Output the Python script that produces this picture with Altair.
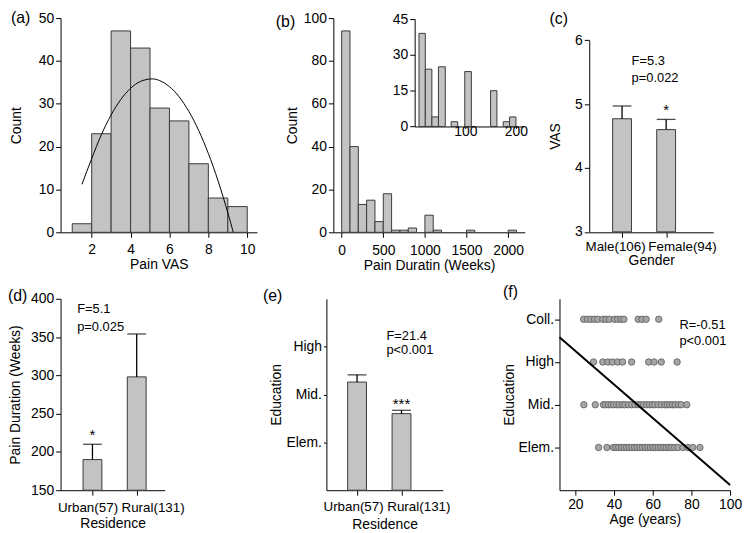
import json
import altair as alt
import pandas as pd

FONT = "Liberation Sans"
BAR_FILL = "#c3c3c3"
BAR_STROKE = "#3a3a3a"

# ---------------- data ----------------
# (a) Pain VAS histogram + fitted curve
vas_bin_start = [1, 2, 3, 4, 5, 6, 7, 8, 9]
vas_bin_end = [2, 3, 4, 5, 6, 7, 8, 9, 10]
vas_counts = [2, 23, 47, 43, 29, 26, 16, 8, 6]
vas_fit_x = [1.5, 2.0, 2.5, 3.0, 3.5, 4.0, 4.5, 5.05, 5.5, 6.0, 6.5, 7.0, 7.5, 8.0, 8.5, 9.0, 9.28]
vas_fit_y = [11.2, 17.2, 22.8, 27.4, 31.0, 33.6, 35.2, 35.8, 35.4, 34.0, 31.6, 28.2, 23.8, 18.4, 12.0, 4.6, 0.0]

# (b) Pain duration histogram + inset
dur_bin_start = [0, 100, 200, 300, 400, 500, 600, 700, 800, 1000, 1100, 1500, 2000]
dur_bin_end = [100, 200, 300, 400, 500, 600, 700, 800, 900, 1100, 1200, 1600, 2100]
dur_counts = [94, 40, 13, 15, 5, 18, 1, 1, 2, 8, 1, 1, 1]
inset_bin_start = [8.5, 21, 34, 47, 72, 99, 150, 175, 187.5]
inset_bin_end = [21, 34, 47, 60.5, 85, 112, 162.5, 187.5, 200]
inset_counts = [39, 24, 4, 25, 2, 23, 15, 2, 4]

# (c) VAS by gender
gender_labels = ["Male(106)", "Female(94)"]
gender_vas_mean = [4.77, 4.60]
gender_vas_upper = [4.97, 4.76]
gender_sig = ["", "*"]

# (d) pain duration by residence
res_labels = ["Urban(57)", "Rural(131)"]
res_dur_mean = [190, 298]
res_dur_upper = [210, 354]
res_dur_sig = ["*", ""]

# (e) education by residence
res_edu_mean = [2.26, 1.60]
res_edu_upper = [2.41, 1.67]
res_edu_sig = ["", "***"]
edu_levels_e = ["Elem.", "Mid.", "High"]

# (f) education vs age
edu_levels_f = ["Elem.", "Mid.", "High", "Coll."]
age_elem = [32.0, 36.3, 39.7, 41.0, 42.4, 43.8, 45.1, 46.5, 47.8, 49.2, 50.6, 51.9, 53.3, 54.7,
            56.1, 57.4, 58.8, 60.2, 61.5, 62.9, 64.3, 65.6, 67.0, 68.4, 69.7, 71.3, 73.0, 75.6,
            78.1, 80.7, 84.4]
age_mid = [24.4, 30.3, 34.5, 35.7, 37.1, 38.5, 39.8, 41.4, 42.7, 44.3, 45.6, 47.4, 49.1, 50.8,
           52.5, 53.8, 55.2, 56.8, 58.3, 59.7, 61.0, 62.7, 64.4, 66.2, 67.5, 68.9, 70.3, 71.6,
           73.3, 74.7, 77.6]
age_high = [29.4, 34.2, 36.8, 39.1, 41.9, 44.4, 49.1, 57.9, 60.7, 64.4, 72.6]
age_coll = [24.3, 26.3, 28.0, 29.9, 31.6, 34.2, 35.9, 37.6, 40.2, 41.9, 43.6, 45.1, 52.5, 54.5,
            56.6, 63.1]
fit_age = [11.8, 100]
fit_edu = [3.58, 0.12]

# statistics annotations: text, x, y (data units)
ann_c = (["F=5.3", "p=0.022"], [1.217, 1.217], [5.674, 5.402])
ann_d = (["F=5.1", "p=0.025"], [0.655, 0.655], [386.2, 363.4])
ann_e = (["F=21.4", "p<0.001"], [1.661, 1.661], [3.224, 2.93])
ann_f = (["R=-0.51", "p<0.001"], [73.8, 73.8], [3.865, 3.494])

AX = dict(domain=True, ticks=True, domainColor="black", tickColor="black",
          labelOverlap=False, labelFlush=False)


def axis(values, **kw):
    return alt.Axis(values=values, tickCount=len(values), **AX, **kw)


# ---------------- helpers ----------------
def panel_label(txt, px, py):
    return alt.Chart(pd.DataFrame({"t": [txt]})).mark_text(
        align="left", baseline="middle", fontSize=16, font=FONT, color="black"
    ).encode(x=alt.value(px), y=alt.value(py), text="t:N")


def annotation(ann):
    df = pd.DataFrame({"t": ann[0], "x": ann[1], "y": ann[2]})
    return alt.Chart(df).mark_text(
        align="left", baseline="middle", fontSize=13, font=FONT, color="black"
    ).encode(x="x:Q", y="y:Q", text="t:N")


def cat_expr(labels, start):
    arr = [""] * start + labels
    return json.dumps(arr) + "[datum.value]"


def bar_panel(labels, means, uppers, sigs, xdom, xrange, ydom, yrange, yvals, ytitle,
              xtitle, label_offsets, base, sig_dy, ytitle_pad, xtitle_pad, xlabel_pad,
              ylabel_expr=None, ytick=5):
    df = pd.DataFrame({
        "pos": list(range(1, len(labels) + 1)),
        "mean": means, "upper": uppers, "sig": sigs,
    })
    xaxis = axis(
        list(range(1, len(labels) + 1)),
        labelExpr=cat_expr(labels, 1), title=xtitle, labelFontSize=13.5,
        titlePadding=xtitle_pad, labelPadding=xlabel_pad,
        labelOffset={"condition": {"test": "datum.value == 1", "value": label_offsets[0]},
                     "value": label_offsets[1]},
    )
    yaxis_kw = dict(title=ytitle, tickSize=ytick, titlePadding=ytitle_pad)
    if ylabel_expr:
        yaxis_kw["labelExpr"] = ylabel_expr
    else:
        yaxis_kw["format"] = "d"
    x = alt.X("pos:Q", scale=alt.Scale(domain=xdom, range=xrange, nice=False, zero=False), axis=xaxis)
    y = alt.Y("mean:Q", scale=alt.Scale(domain=ydom, range=yrange, nice=False, zero=False),
              axis=axis(yvals, **yaxis_kw))
    bars = alt.Chart(df).mark_bar(size=19, fill=BAR_FILL, stroke=BAR_STROKE, strokeWidth=1).encode(
        x=x, y=y, y2=alt.datum(base))
    err = alt.Chart(df).mark_rule(color="black", strokeWidth=1.3).encode(
        x="pos:Q", y="mean:Q", y2="upper:Q")
    cap = alt.Chart(df).mark_tick(orient="horizontal", size=19, thickness=1.3, color="black").encode(
        x="pos:Q", y="upper:Q")
    sig = alt.Chart(df).mark_text(baseline="alphabetic", dy=sig_dy, fontSize=15, font=FONT,
                                  color="black").encode(x="pos:Q", y="upper:Q", text="sig:N")
    return [bars, err, cap, sig]


# ---------------- (a) ----------------
df_a = pd.DataFrame({"start": vas_bin_start, "end": vas_bin_end, "count": vas_counts})
df_a_fit = pd.DataFrame({"x": vas_fit_x, "y": vas_fit_y})
a_bars = alt.Chart(df_a).mark_bar(fill=BAR_FILL, stroke=BAR_STROKE, strokeWidth=1).encode(
    x=alt.X("start:Q", scale=alt.Scale(domain=[0.4, 10.5], range=[0, 198], nice=False, zero=False),
            axis=axis([2, 4, 6, 8, 10], title="Pain VAS", titlePadding=1, labelPadding=5)),
    x2="end:Q",
    y=alt.Y("count:Q", scale=alt.Scale(domain=[0, 50], nice=False),
            axis=axis([0, 10, 20, 30, 40, 50], title="Count", titlePadding=15)),
    y2=alt.datum(0),
)
a_fit = alt.Chart(df_a_fit).mark_line(color="black", strokeWidth=1, interpolate="natural").encode(
    x="x:Q", y="y:Q")
panel_a = alt.layer(a_bars, a_fit, panel_label("(a)", -50, 0)).properties(width=210, height=216)

# ---------------- (b) ----------------
df_b = pd.DataFrame({"start": dur_bin_start, "end": dur_bin_end, "count": dur_counts})
df_bi = pd.DataFrame({"start": inset_bin_start, "end": inset_bin_end, "count": inset_counts})
b_main = alt.Chart(df_b).mark_bar(fill=BAR_FILL, stroke=BAR_STROKE, strokeWidth=1).encode(
    x=alt.X("start:Q", scale=alt.Scale(domain=[-100, 2200], range=[0, 193], nice=False, zero=False),
            axis=axis([0, 500, 1000, 1500, 2000], title="Pain Duratin (Weeks)",
                      format="d", titlePadding=1, labelPadding=6)),
    x2="end:Q",
    y=alt.Y("count:Q", scale=alt.Scale(domain=[0, 100], nice=False),
            axis=axis([0, 20, 40, 60, 80, 100], title="Count", titlePadding=4)),
    y2=alt.datum(0),
)
b_inset = alt.Chart(df_bi).mark_bar(fill=BAR_FILL, stroke=BAR_STROKE, strokeWidth=1).encode(
    x=alt.X("start:Q", scale=alt.Scale(domain=[0, 215], range=[82, 191.7], nice=False, zero=False),
            axis=axis([100, 200], title=None, orient="bottom", offset=-106.7,
                      tickSize=2, labelPadding=-4)),
    x2="end:Q",
    y=alt.Y("count:Q", scale=alt.Scale(domain=[0, 45], range=[109.3, 1], nice=False),
            axis=axis([0, 15, 30, 45], title=None, orient="left", offset=-82)),
    y2=alt.datum(0),
)
panel_b = alt.layer(b_main, b_inset, panel_label("(b)", -58, 4)).resolve_scale(
    x="independent", y="independent").properties(width=193, height=216)

# ---------------- (c) ----------------
c_layers = bar_panel(gender_labels, gender_vas_mean, gender_vas_upper, gender_sig,
                     [0.3685, 2.956], [0, 125], [3, 6], [215.5, 22.3], [3, 4, 5, 6], "VAS",
                     "Gender", [-7, 16], 3, -4, 12, 1, 2)
panel_c = alt.layer(*c_layers, annotation(ann_c), panel_label("(c)", -40, 1)).properties(
    width=125, height=216)

# ---------------- (d) ----------------
d_layers = bar_panel(res_labels, res_dur_mean, res_dur_upper, res_dur_sig,
                     [0.3915, 2.521], [0, 105], [150, 400], [193, 0],
                     [150, 200, 250, 300, 350, 400], "Pain Duration (Weeks)",
                     "Residence", [-5, 16], 150, -4, 8, 3, 5)
panel_d = alt.layer(*d_layers, annotation(ann_d), panel_label("(d)", -53, -3)).properties(
    width=151, height=193)

# ---------------- (e) ----------------
e_layers = bar_panel(res_labels, res_edu_mean, res_edu_upper, res_edu_sig,
                     [0.422, 2.816], [0, 117.3], [0, 4], [193, 0], [1, 2, 3], "Education",
                     "Residence", [-4, 17], 0, -1, 2, 5, 4,
                     ylabel_expr=cat_expr(edu_levels_e, 1), ytick=3)
panel_e = alt.layer(*e_layers, annotation(ann_e), panel_label("(e)", -64, -3)).properties(
    width=118, height=193)

# ---------------- (f) ----------------
ages, levels = [], []
for i, lst in enumerate([age_elem, age_mid, age_high, age_coll]):
    ages += lst
    levels += [i + 1] * len(lst)
df_f = pd.DataFrame({"age": ages, "edu": levels})
df_f_fit = pd.DataFrame({"age": fit_age, "edu": fit_edu})
f_pts = alt.Chart(df_f).mark_circle(size=42, fill="#a6a6a6", stroke="#5a5a5a", strokeWidth=0.8,
                                    opacity=1).encode(
    x=alt.X("age:Q", scale=alt.Scale(domain=[11.8, 100], nice=False, zero=False),
            axis=axis([20, 40, 60, 80, 100], title="Age (years)", titlePadding=2)),
    y=alt.Y("edu:Q", scale=alt.Scale(domain=[0, 4.48], nice=False),
            axis=axis([1, 2, 3, 4], labelExpr=cat_expr(edu_levels_f, 1),
                      title="Education", titlePadding=2, labelPadding=1)),
)
f_fit = alt.Chart(df_f_fit).mark_line(color="black", strokeWidth=2).encode(x="age:Q", y="edu:Q")
panel_f = alt.layer(f_pts, f_fit, annotation(ann_f), panel_label("(f)", -57, -7)).properties(
    width=172, height=193)

# ---------------- layout ----------------
row1 = alt.hconcat(panel_a, panel_b, panel_c, spacing=65, bounds="flush")
row2 = alt.hconcat(panel_d, panel_e, panel_f, spacing=117, bounds="flush")
chart = alt.vconcat(row1, row2, spacing=12).properties(padding=0).configure_axis(
    domain=True, ticks=True, domainColor="black", tickColor="black", labelColor="black",
    titleColor="black", labelFont=FONT, titleFont=FONT, labelFontSize=14, titleFontSize=14,
    titleFontWeight="normal", grid=False, domainWidth=1, tickWidth=1, labelPadding=2,
    tickSize=5,
).configure_view(stroke=None)

chart.save("out.html", embed_options={"renderer": "svg", "actions": False})
